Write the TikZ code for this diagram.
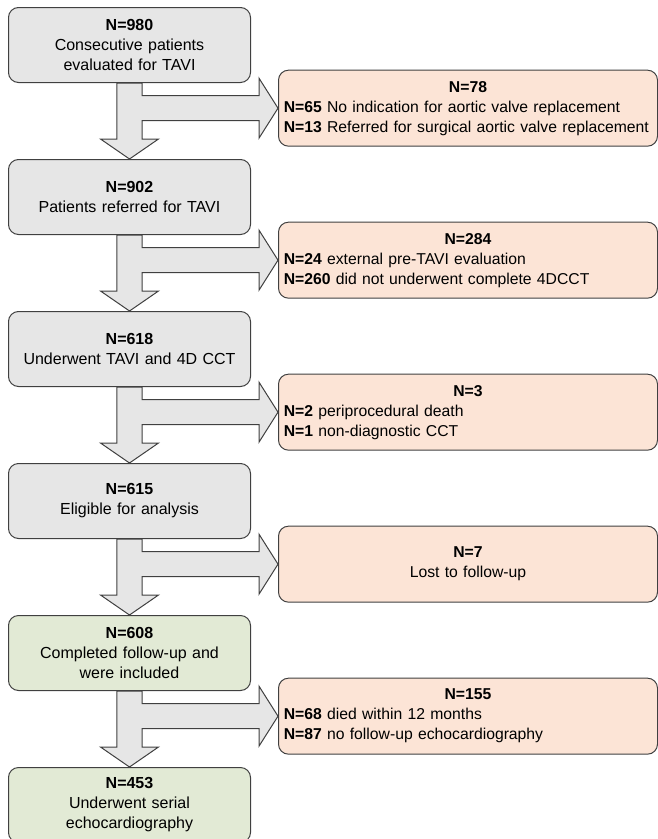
\documentclass[tikz,border=0pt]{standalone}
\usepackage{fontspec}
\setmainfont{Liberation Sans}
\usepackage{tikz}
\usetikzlibrary{positioning,calc}
\usepackage{xcolor}
\definecolor{boxgray}{HTML}{E6E6E6}
\definecolor{peach}{HTML}{FCE4D6}
\definecolor{sage}{HTML}{E2EAD5}
\definecolor{edge}{HTML}{404040}
\newcommand{\midline}[1]{\hfill#1\hfill\hbox{}}
\tikzset{%
  % Specifications for style of nodes:
        base/.style = {rectangle, rounded corners=7.5pt, draw=edge,
                       line width=0.75pt, font=\fontsize{12}{15}\selectfont},
       stage/.style = {base, fill=boxgray, minimum width=181.5pt,
                       minimum height=56.25pt, text width=171.5pt,
                       inner xsep=5pt, align=center},
        kept/.style = {stage, fill=sage},
    excluded/.style = {base, fill=peach, minimum width=284.25pt,
                       minimum height=57pt, text width=276.25pt,
                       inner xsep=4pt, align=left,
                       font=\fontsize{11.8}{15}\selectfont},
  blockarrow/.style = {fill=boxgray, draw=edge, line width=0.75pt},
}
% fat arrow: down from #1 to #2, with a branch to the side box #3
\newcommand{\flowarrow}[3]{%
  \draw[blockarrow] ($(#1.south)+(-9.4pt,0)$) -- ($(#2.north)+(-9.4pt,15pt)$)
    -- ($(#2.north)+(-21.75pt,15pt)$) -- (#2.north)
    -- ($(#2.north)+(21.75pt,15pt)$) -- ($(#2.north)+(9.4pt,15pt)$)
    -- ($(#1.south |- #3.west)+(9.4pt,-9.4pt)$) -- ($(#3.west)+(-14.25pt,-9.4pt)$)
    -- ($(#3.west)+(-14.25pt,-22.5pt)$) -- (#3.west)
    -- ($(#3.west)+(-14.25pt,22.5pt)$) -- ($(#3.west)+(-14.25pt,9.4pt)$)
    -- ($(#1.south |- #3.west)+(9.4pt,9.4pt)$) -- ($(#1.south)+(9.4pt,0)$) -- cycle;}

\begin{document}
\begin{tikzpicture}[node distance=57pt]
  \useasboundingbox (0,0) rectangle (492.75pt,-629.25pt);
  % Specification of nodes on the main path
  \node (screened) [stage, anchor=north west] at (6pt,-5.25pt)
    {\textbf{N=980}\\Consecutive patients\\evaluated for TAVI};
  \node (referred)  [stage, below=of screened]  {\textbf{N=902}\\Patients referred for TAVI};
  \node (underwent) [stage, below=of referred]  {\textbf{N=618}\\Underwent TAVI and 4D CCT};
  \node (eligible)  [stage, below=of underwent] {\textbf{N=615}\\Eligible for analysis};
  \node (included)  [kept, below=of eligible]   {\textbf{N=608}\\Completed follow-up and\\were included};
  \node (serial)    [kept, below=of included]   {\textbf{N=453}\\Underwent serial\\echocardiography};
  % Specification of nodes for the excluded patients
  \node (noValve)  [excluded, below right=-10pt and 20.25pt of screened]
    {\midline{\textbf{N=78}}\\
     \textbf{N=65} No indication for aortic valve replacement\\
     \textbf{N=13} Referred for surgical aortic valve replacement};
  \node (noCCT)    [excluded, below right=-10pt and 20.25pt of referred]
    {\midline{\textbf{N=284}}\\
     \textbf{N=24} external pre-TAVI evaluation\\
     \textbf{N=260} did not underwent complete 4DCCT};
  \node (periproc) [excluded, below right=-10pt and 20.25pt of underwent]
    {\midline{\textbf{N=3}}\\
     \textbf{N=2} periprocedural death\\
     \textbf{N=1} non-diagnostic CCT};
  \node (lost)     [excluded, below right=-10pt and 20.25pt of eligible]
    {\midline{\textbf{N=7}}\\\midline{Lost to follow-up}};
  \node (noEcho)   [excluded, below right=-10pt and 20.25pt of included]
    {\midline{\textbf{N=155}}\\
     \textbf{N=68} died within 12 months\\
     \textbf{N=87} no follow-up echocardiography};
  % Specification of arrows between nodes specified above
  \flowarrow{screened}{referred}{noValve}
  \flowarrow{referred}{underwent}{noCCT}
  \flowarrow{underwent}{eligible}{periproc}
  \flowarrow{eligible}{included}{lost}
  \flowarrow{included}{serial}{noEcho}
\end{tikzpicture}
\end{document}
